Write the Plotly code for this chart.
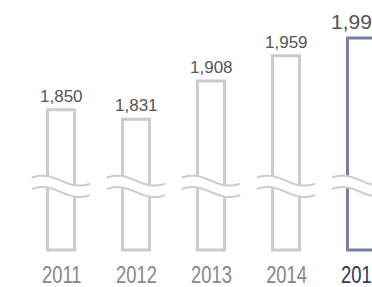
import numpy as np
import plotly.graph_objects as go

years = ["2011", "2012", "2013", "2014", "2015"]
values = [1850, 1831, 1908, 1959, 1995]
value_labels = ["1,850", "1,831", "1,908", "1,959", "1,995"]
highlight = "2015"

GRAY = "#cccccc"
BLUE = "#76829f"
NAVY = "#2c3a5e"
BASE = 1567
BREAK_UP, BREAK_LO, AMP = 1707, 1684, 10

xs = list(range(len(years)))
line_colors = [BLUE if y == highlight else GRAY for y in years]

fig = go.Figure()
fig.add_trace(go.Bar(
    x=xs, y=[v - BASE for v in values], base=BASE, width=0.36,
    marker=dict(color="rgba(255,255,255,0)", line=dict(color=line_colors, width=3)),
    hoverinfo="skip",
))

shapes = []
for i in xs:
    t = np.linspace(-0.39, 0.39, 60)
    wave = -AMP * np.sin(np.pi * t / 0.4933)
    up = [(i + a, BREAK_UP + w) for a, w in zip(t, wave)]
    lo = [(i + a, BREAK_LO + w) for a, w in zip(t, wave)]
    fill = "M " + " L ".join(f"{px},{py}" for px, py in up + lo[::-1]) + " Z"
    shapes.append(dict(type="path", path=fill, xref="x", yref="y",
                       fillcolor="white", line=dict(width=0), layer="above"))
    for pts in (up, lo):
        p = "M " + " L ".join(f"{px},{py}" for px, py in pts)
        shapes.append(dict(type="path", path=p, xref="x", yref="y",
                           line=dict(color=GRAY, width=2), layer="above"))

annotations = []
# year labels first (indices 0..4) – condensed in post_script
for i, y in enumerate(years):
    hi = y == highlight
    annotations.append(dict(
        x=i, y=-0.0913, xref="x", yref="paper", text=y, showarrow=False,
        yanchor="middle", xanchor="center",
        font=dict(family="Liberation Sans, Arial, sans-serif", size=23,
                  color=NAVY if hi else "#888888"),
    ))
for i, (y, v, lab) in enumerate(zip(years, values, value_labels)):
    hi = y == highlight
    annotations.append(dict(
        x=i, y=v, xref="x", yref="y", text=lab, showarrow=False,
        yanchor="bottom", yshift=2 if not hi else 3, xshift=0 if not hi else -4,
        font=dict(family="Liberation Sans, Arial, sans-serif", size=21 if hi else 17,
                  color="#555555"),
    ))

fig.update_layout(
    width=372, height=287,
    margin=dict(l=0, r=0, t=0, b=35),
    paper_bgcolor="white", plot_bgcolor="white",
    showlegend=False,
    shapes=shapes, annotations=annotations,
    xaxis=dict(range=[-0.8133, 4.1467], showticklabels=False,
               showgrid=False, zeroline=False, showline=False),
    yaxis=dict(range=[1563, 2071.6], visible=False, showgrid=False, zeroline=False),
)

post = """
document.body.style.margin='0';
var gd=document.getElementById('{plot_id}');
function squeeze(){
  for(var k=0;k<%d;k++){
    var t=gd.querySelector('.annotation[data-index="'+k+'"] text');
    if(!t) continue;
    var tr=t.getAttribute('data-orig-tr');
    if(tr===null){tr=t.getAttribute('transform')||''; t.setAttribute('data-orig-tr',tr);}
    t.setAttribute('transform', tr);
    var b=t.getBBox(); var cx=b.x+b.width/2;
    t.setAttribute('transform', tr+' translate('+cx+',0) scale(0.8,1) translate('+(-cx)+',0)');
  }
}
squeeze();
gd.on('plotly_afterplot', squeeze);
""" % len(years)

fig.write_html("out.html", config={"displayModeBar": False}, post_script=post)
